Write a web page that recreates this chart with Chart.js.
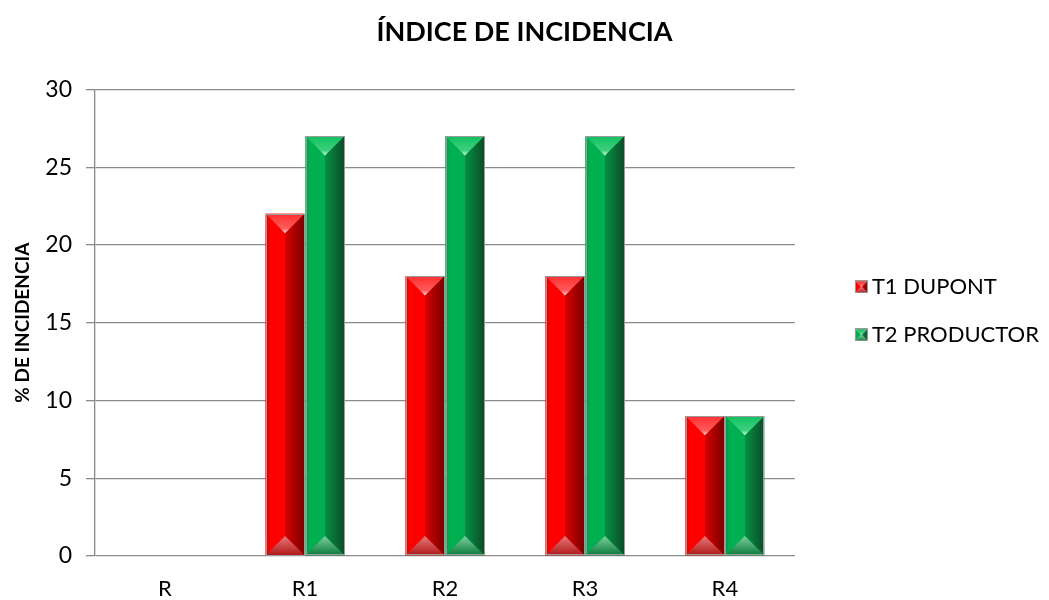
<!DOCTYPE html>
<html>
<head>
<meta charset="utf-8">
<script src="https://cdn.jsdelivr.net/npm/chart.js@4/dist/chart.umd.min.js"></script>
<style>
  html, body { margin: 0; padding: 0; background: #fff; }
  #wrap { width: 1049px; height: 600px; }
</style>
</head>
<body>
<div id="wrap"><canvas id="chart"></canvas></div>
<script>
// Incidence by block for each treatment
const categories = ['R', 'R1', 'R2', 'R3', 'R4'];
const t1Dupont = [0, 22, 18, 18, 9];
const t2Productor = [0, 27, 27, 27, 9];
const yTicks = [0, 5, 10, 15, 20, 25, 30];

const FONT = 'Lato, "Open Sans", sans-serif';

// colour sets for the bevelled columns
const palettes = {
  red: { light: '#ff5a5a', face: '#ff0000', mid: '#d80000', dark: '#7a0000', top: '#ff3030', glow: '#ffe0e0', bottom: '#b01818', bottomGlow: '#e57a7a' },
  green: { light: '#3fd07f', face: '#00b050', mid: '#059044', dark: '#0b4d27', top: '#10c060', glow: '#d8fbe8', bottom: '#0a7a3a', bottomGlow: '#7fcf9f' }
};

function drawBevel(ctx, L, T, R, B, p) {
  const w = R - L, h = B - T;
  if (w <= 0 || h <= 0) return;
  const mid = (L + R) / 2;
  const d = Math.min(w / 2, h / 2);

  // left face
  let g = ctx.createLinearGradient(L, 0, mid, 0);
  g.addColorStop(0, p.mid);
  g.addColorStop(0.2, p.face);
  g.addColorStop(1, p.face);
  ctx.fillStyle = g;
  ctx.beginPath();
  ctx.moveTo(L, T); ctx.lineTo(mid, T + d); ctx.lineTo(mid, B - d); ctx.lineTo(L, B);
  ctx.closePath(); ctx.fill();

  // right face, darker toward the edge
  g = ctx.createLinearGradient(mid, 0, R, 0);
  g.addColorStop(0, p.mid);
  g.addColorStop(1, p.dark);
  ctx.fillStyle = g;
  ctx.beginPath();
  ctx.moveTo(R, T); ctx.lineTo(mid, T + d); ctx.lineTo(mid, B - d); ctx.lineTo(R, B);
  ctx.closePath(); ctx.fill();

  // top facet
  g = ctx.createLinearGradient(0, T, 0, T + d);
  g.addColorStop(0, p.top);
  g.addColorStop(0.75, p.light);
  g.addColorStop(1, p.glow);
  ctx.fillStyle = g;
  ctx.beginPath();
  ctx.moveTo(L, T); ctx.lineTo(R, T); ctx.lineTo(mid, T + d);
  ctx.closePath(); ctx.fill();

  // bottom facet
  g = ctx.createLinearGradient(0, B - d, 0, B);
  g.addColorStop(0, p.bottomGlow);
  g.addColorStop(1, p.bottom);
  ctx.fillStyle = g;
  ctx.beginPath();
  ctx.moveTo(L, B); ctx.lineTo(R, B); ctx.lineTo(mid, B - d);
  ctx.closePath(); ctx.fill();

  ctx.strokeStyle = '#9a9a9a';
  ctx.lineWidth = 1;
  ctx.strokeRect(Math.round(L) + 0.5, Math.round(T) + 0.5, Math.round(w) - 1, Math.round(h) - 1);
}

// legend marker: a small bevelled square at the right end of a wider transparent canvas
const SWATCH = 13, MARKER_W = 54, BOX_W = 40;
function legendSwatch(p) {
  const c = document.createElement('canvas');
  c.width = MARKER_W; c.height = SWATCH;
  drawBevel(c.getContext('2d'), MARKER_W - SWATCH, 0, MARKER_W, SWATCH, p);
  return c;
}

const bevelPlugin = {
  id: 'bevel',
  afterDatasetsDraw(chart) {
    const ctx = chart.ctx;
    ctx.save();
    chart.data.datasets.forEach((ds, i) => {
      const meta = chart.getDatasetMeta(i);
      const p = palettes[ds.palette];
      meta.data.forEach(bar => {
        const props = bar.getProps(['x', 'y', 'base', 'width']);
        const L = props.x - props.width / 2, R = props.x + props.width / 2;
        drawBevel(ctx, L, Math.min(props.y, props.base), R, Math.max(props.y, props.base), p);
      });
    });
    ctx.restore();
  }
};

new Chart(document.getElementById('chart'), {
  type: 'bar',
  data: {
    labels: categories,
    datasets: [
      { label: 'T1 DUPONT', data: t1Dupont, palette: 'red', backgroundColor: '#ff0000' },
      { label: 'T2 PRODUCTOR', data: t2Productor, palette: 'green', backgroundColor: '#00b050' }
    ]
  },
  options: {
    responsive: true,
    maintainAspectRatio: false,
    animation: false,
    categoryPercentage: 0.57,
    barPercentage: 0.97,
    layout: { padding: { top: 12, right: 0, bottom: 0, left: 0 } },
    scales: {
      x: {
        grid: { display: false, drawTicks: false },
        border: { display: false },
        ticks: { color: '#000', font: { family: FONT, size: 22 }, padding: 20 },
        afterFit: scale => { scale.height = 44; }
      },
      y: {
        min: 0, max: 30,
        afterBuildTicks: axis => { axis.ticks = yTicks.map(v => ({ value: v })); },
        afterFit: scale => { scale.width = 95; },
        grid: { color: '#8a8a8a', lineWidth: 1.3, tickLength: 9 },
        border: { color: '#8a8a8a', width: 1.3 },
        ticks: { color: '#000', font: { family: FONT, size: 23 }, padding: 14 },
        title: {
          display: true, text: '% DE INCIDENCIA', color: '#000',
          font: { family: FONT, size: 19, weight: 'bold' }, padding: { top: 11, bottom: 9 }
        }
      }
    },
    plugins: {
      title: {
        display: true, text: 'ÍNDICE DE INCIDENCIA', color: '#000',
        font: { family: FONT, size: 27, weight: 'bold' }, padding: { top: 4, bottom: 41 }
      },
      legend: {
        position: 'right',
        title: { display: true, text: ' ', font: { size: 8 }, padding: 0 },
        labels: {
          color: '#000',
          font: { family: FONT, size: 22 },
          usePointStyle: true,
          pointStyleWidth: BOX_W,
          padding: 26,
          generateLabels: chart => chart.data.datasets.map((ds, i) => ({
            text: ds.label,
            fontColor: '#000',
            pointStyle: legendSwatch(palettes[ds.palette]),
            fillStyle: ds.backgroundColor,
            strokeStyle: ds.backgroundColor,
            lineWidth: 0,
            hidden: !chart.isDatasetVisible(i),
            datasetIndex: i
          }))
        }
      },
      tooltip: { enabled: false }
    }
  },
  plugins: [bevelPlugin]
});
</script>
</body>
</html>
